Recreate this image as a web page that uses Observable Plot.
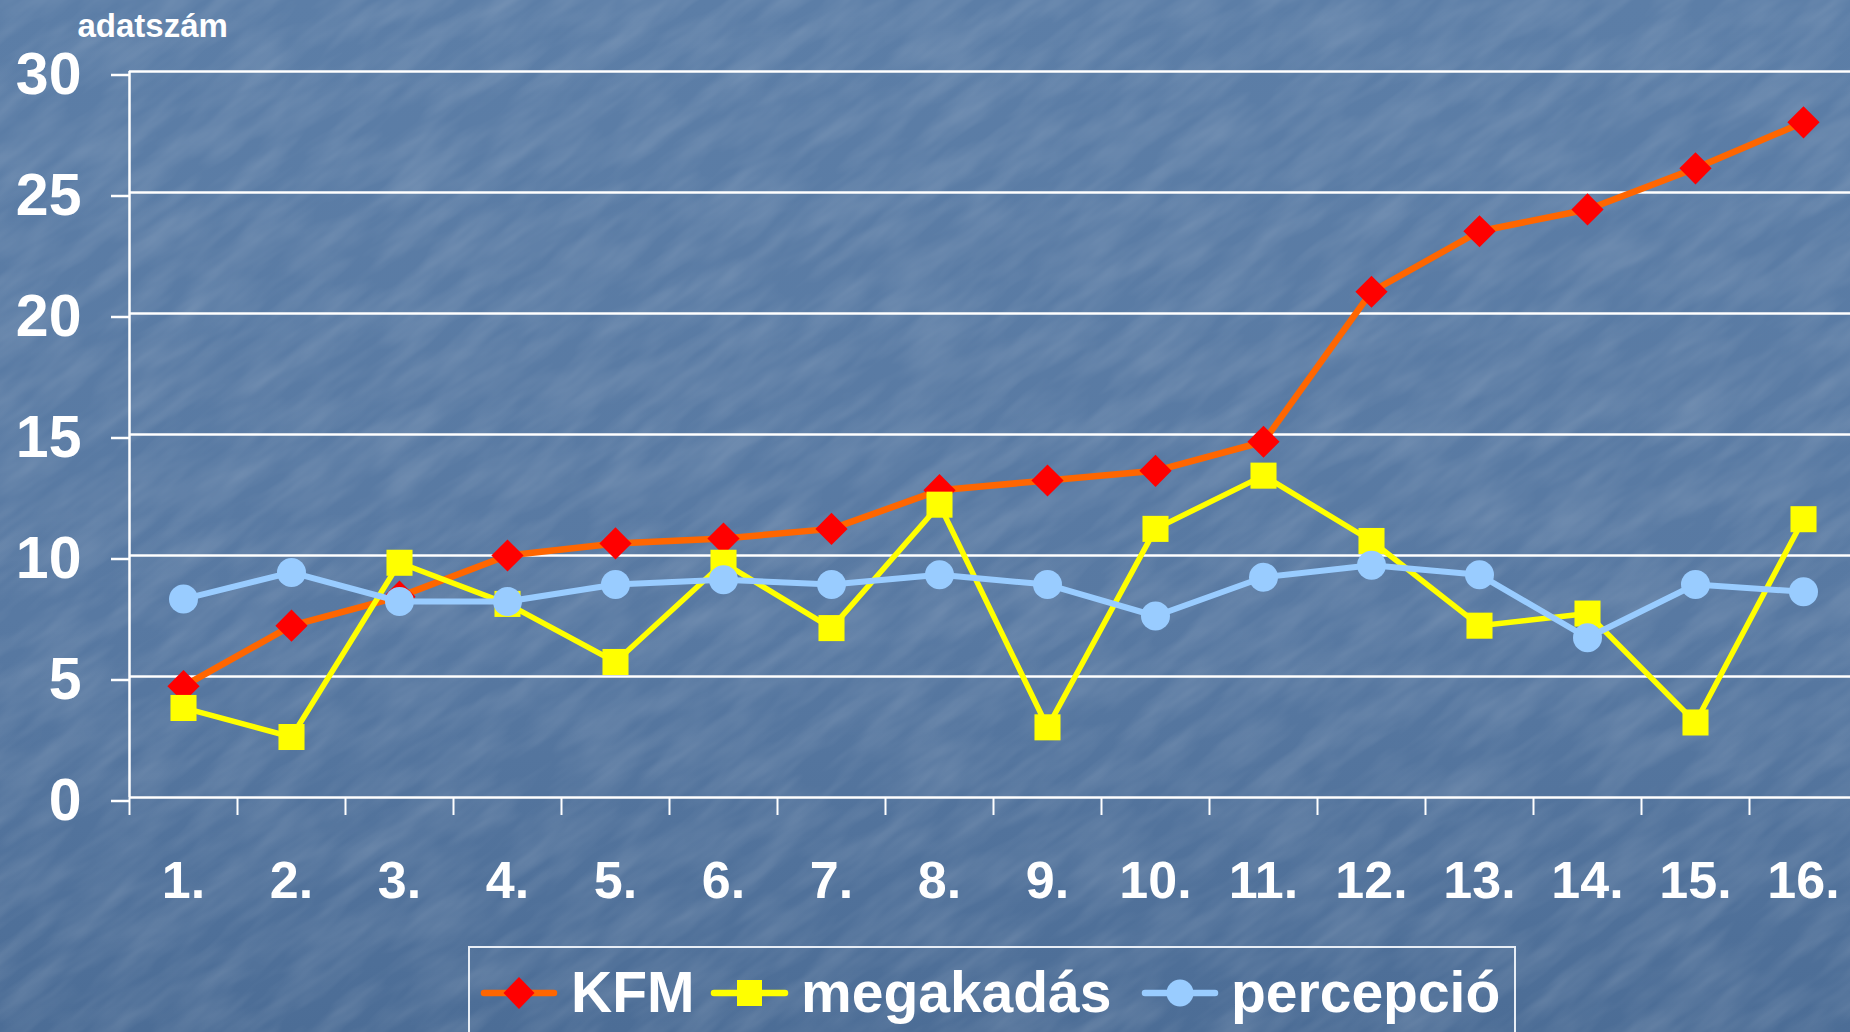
<!DOCTYPE html>
<html>
<head>
<meta charset="utf-8">
<script src="https://cdn.jsdelivr.net/npm/d3@7"></script>
<script src="https://cdn.jsdelivr.net/npm/@observablehq/plot@0.6"></script>
<style>
  html, body { margin: 0; padding: 0; width: 1850px; height: 1032px; overflow: hidden; }
  body {
    position: relative;
    font-family: "Liberation Sans", Arial, sans-serif;
    background: linear-gradient(180deg, #5c7ea7 0%, #5879a2 60%, #4c6d96 100%);
  }
  #tex { position: absolute; left: 0; top: 0; width: 1850px; height: 1032px; pointer-events: none; }
  #chart { position: absolute; left: 0; top: 0; }
  #legend {
    position: absolute; left: 468px; top: 946px; width: 1048px; height: 130px;
    border: 2px solid #e8eef6; box-sizing: border-box;
  }
  .lg-item { position: absolute; color: #fff; font-weight: bold; font-size: 57px; line-height: 1; white-space: nowrap; }
  .lg-sw { position: absolute; }
</style>
</head>
<body>
<svg id="tex" width="1850" height="1032">
  <filter id="noise" x="0" y="0" width="100%" height="100%">
    <feTurbulence type="fractalNoise" baseFrequency="0.012 0.05" numOctaves="3" seed="7"/>
    <feColorMatrix type="matrix" values="0 0 0 0 1  0 0 0 0 1  0 0 0 0 1  0 0 0 0.22 -0.07"/>
  </filter>
  <g transform="rotate(-35 925 516)">
    <rect x="-600" y="-600" width="3050" height="2232" filter="url(#noise)"/>
  </g>
</svg>
<div id="chart"></div>
<div id="legend"></div>
<script>
// ---- data ----
const categories = ["1.", "2.", "3.", "4.", "5.", "6.", "7.", "8.", "9.", "10.", "11.", "12.", "13.", "14.", "15.", "16."];
const kfm        = [4.6, 7.1, 8.3, 10.0, 10.5, 10.7, 11.1, 12.7, 13.1, 13.5, 14.7, 20.9, 23.4, 24.3, 26.0, 27.9];
const megakadas  = [3.7, 2.5, 9.7, 8.0, 5.6, 9.7, 7.0, 12.1, 2.9, 11.1, 13.3, 10.6, 7.1, 7.6, 3.1, 11.5];
const percepcio  = [8.2, 9.3, 8.1, 8.1, 8.8, 9.0, 8.8, 9.2, 8.8, 7.5, 9.1, 9.6, 9.2, 6.6, 8.8, 8.5];
const yTicks     = [0, 5, 10, 15, 20, 25, 30];
const seriesNames = ["KFM", "megakadás", "percepció"];
const yLabel = "adatszám";

// build table: x is the category's centre on a linear [0,16] axis
const toRows = (vals, name) => vals.map((v, i) => ({x: i + 0.5, cat: categories[i], value: v, series: name}));
const rowsK = toRows(kfm, seriesNames[0]);
const rowsM = toRows(megakadas, seriesNames[1]);
const rowsP = toRows(percepcio, seriesNames[2]);
const centers = categories.map((c, i) => i + 0.5);
const bounds = d3.range(categories.length + 1);

const ORANGE = "#ff6600", RED = "#ff0000", YELLOW = "#ffff00", LBLUE = "#99ccff";

const chart = Plot.plot({
  width: 1850,
  height: 930,
  marginTop: 71,
  marginBottom: 133,
  marginLeft: 129,
  marginRight: 0,
  style: {background: "transparent", color: "#fff", fontFamily: "Liberation Sans, Arial, sans-serif", fontWeight: "bold", overflow: "visible"},
  x: {domain: [0, categories.length], range: [129, 1857]},
  y: {domain: [0, 30], range: [797, 71]},
  marks: [
    Plot.gridY(yTicks, {stroke: "#fff", strokeOpacity: 1, strokeWidth: 2.5}),
    Plot.ruleX([0], {y1: 0, y2: 30, stroke: "#fff", strokeWidth: 2.5}),
    Plot.axisY(yTicks, {tickSize: 18, tickPadding: 30, fontSize: 59, strokeWidth: 2.5, dy: 3.5, label: null, tickFormat: d => String(d)}),
    Plot.axisX(bounds, {tickSize: 18, strokeWidth: 2, tickFormat: () => "", label: null}),
    Plot.axisX(centers, {tickSize: 0, tickPadding: 64, fontSize: 52, label: null, tickFormat: d => categories[Math.floor(d)]}),
    Plot.text([yLabel], {frameAnchor: "top-left", dx: -52, dy: -58, textAnchor: "start", fontSize: 33, fill: "#fff", fontWeight: "bold"}),
    // KFM
    Plot.line(rowsK, {x: "x", y: "value", stroke: ORANGE, strokeWidth: 6.5}),
    Plot.dot(rowsK, {x: "x", y: "value", symbol: "diamond2", r: 14.5, fill: RED, stroke: "none"}),
    // megakadás
    Plot.line(rowsM, {x: "x", y: "value", stroke: YELLOW, strokeWidth: 5.5}),
    Plot.dot(rowsM, {x: "x", y: "value", symbol: "square", r: 14.7, fill: YELLOW, stroke: "none"}),
    // percepció
    Plot.line(rowsP, {x: "x", y: "value", stroke: LBLUE, strokeWidth: 6}),
    Plot.dot(rowsP, {x: "x", y: "value", symbol: "circle", r: 14.5, fill: LBLUE, stroke: "none"})
  ]
});
document.getElementById("chart").appendChild(chart);

// ---- legend ----
const legend = document.getElementById("legend");
const L = 468, T = 946;
const items = [
  {name: seriesNames[0], line: ORANGE, fill: RED, shape: "diamond", x0: 482, x1: 556, tx: 571},
  {name: seriesNames[1], line: YELLOW, fill: YELLOW, shape: "square", x0: 712, x1: 787, tx: 801},
  {name: seriesNames[2], line: LBLUE, fill: LBLUE, shape: "circle", x0: 1143, x1: 1217, tx: 1231}
];
const cy = 993;
items.forEach(it => {
  const w = it.x1 - it.x0;
  const svg = d3.create("svg").attr("class", "lg-sw").attr("width", w + 4).attr("height", 40)
    .style("left", (it.x0 - L - 2 - 2) + "px").style("top", (cy - T - 20 - 2) + "px");
  svg.append("line").attr("x1", 4).attr("x2", w).attr("y1", 20).attr("y2", 20)
    .attr("stroke", it.line).attr("stroke-width", 6.5).attr("stroke-linecap", "round");
  const cx = 2 + w / 2;
  if (it.shape === "diamond") svg.append("path").attr("d", `M${cx},4L${cx + 15.5},20L${cx},36L${cx - 15.5},20Z`).attr("fill", it.fill);
  else if (it.shape === "square") svg.append("rect").attr("x", cx - 12.5).attr("y", 7).attr("width", 25).attr("height", 26).attr("fill", it.fill);
  else svg.append("circle").attr("cx", cx).attr("cy", 20).attr("r", 13.5).attr("fill", it.fill);
  legend.appendChild(svg.node());
  const t = document.createElement("div");
  t.className = "lg-item";
  t.textContent = it.name;
  t.style.left = (it.tx - L - 2) + "px";
  t.style.top = (1016 - T - 2 - 52) + "px";
  legend.appendChild(t);
});
</script>
</body>
</html>
